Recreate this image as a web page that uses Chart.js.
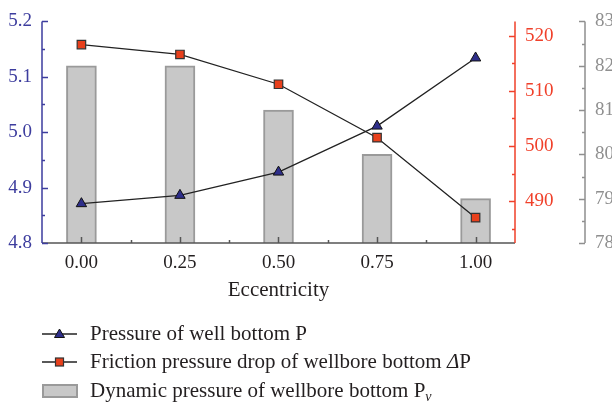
<!DOCTYPE html>
<html>
<head>
<meta charset="utf-8">
<script src="https://cdn.jsdelivr.net/npm/chart.js@4"></script>
<style>
  body { margin: 0; background: #fff; }
  #wrap { position: relative; width: 612px; height: 405px; overflow: hidden; }
  #chart { position: absolute; left: 0; top: 0; }
  .leg { position: absolute; left: 42px; font-family: "Liberation Serif", serif; font-size: 21px; color: #231f20; white-space: nowrap; }
  .leg svg { position: absolute; left: 0; top: 0; }
  .leg span { position: absolute; left: 48px; top: -13px; }
  sub { font-size: 14px; vertical-align: -4px; }
</style>
</head>
<body>
<div id="wrap">
  <canvas id="chart" width="640" height="405"></canvas>
  <div class="leg" style="top:334px">
    <svg width="40" height="14" style="top:-7px"><line x1="0" y1="7" x2="35" y2="7" stroke="#222" stroke-width="1.3"/><polygon points="17.5,2 22.5,10.5 12.5,10.5" fill="#2e2e8a" stroke="#111" stroke-width="1"/></svg>
    <span>Pressure of well bottom P</span>
  </div>
  <div class="leg" style="top:362px">
    <svg width="40" height="14" style="top:-7px"><line x1="0" y1="7" x2="35" y2="7" stroke="#222" stroke-width="1.3"/><rect x="13.5" y="3" width="8" height="8" fill="#e8401c" stroke="#333" stroke-width="1.2"/></svg>
    <span>Friction pressure drop of wellbore bottom <i>Δ</i>P</span>
  </div>
  <div class="leg" style="top:391px">
    <svg width="40" height="16" style="top:-7px"><rect x="1" y="1" width="34" height="12" fill="#c8c8c8" stroke="#9a9a9a" stroke-width="2"/></svg>
    <span>Dynamic pressure of wellbore bottom P<sub><i>v</i></sub></span>
  </div>
</div>
<script>
var eccentricity = [0, 0.25, 0.5, 0.75, 1.0];
var pressure = [4.871, 4.886, 4.928, 5.011, 5.134];
var friction = [518.4, 516.6, 511.2, 501.5, 487.0];
var dynamicP = [82.0, 82.0, 81.0, 80.0, 79.0];

var pTicks = [4.8, 4.9, 5.0, 5.1, 5.2];
var dpTicks = [490, 500, 510, 520];
var pvTicks = [78, 79, 80, 81, 82, 83];

var blue = '#3d3d9e';
var red = '#f0402a';
var gray = '#8f8f8f';
var dark = '#231f20';
var fontFam = '"Liberation Serif", serif';

function pts(ys) {
    return eccentricity.map(function(x, i) { return {x: x, y: ys[i]}; });
}

function minors(scale, ticks) {
    var step = ticks[1] - ticks[0];
    var out = [];
    for (var v = ticks[0] - step / 2; v <= scale.max + 1e-9; v += step) {
        if (v >= scale.min - 1e-9) out.push(v);
    }
    return out;
}

function drawY(ctx, scale, x, dir, color, ticks) {
    ctx.strokeStyle = color;
    ctx.beginPath();
    ctx.moveTo(x, scale.top);
    ctx.lineTo(x, scale.bottom);
    ticks.forEach(function(v) {
        var y = Math.round(scale.getPixelForValue(v)) + 0.5;
        ctx.moveTo(x, y); ctx.lineTo(x + dir * 6, y);
    });
    minors(scale, ticks).forEach(function(v) {
        var y = Math.round(scale.getPixelForValue(v)) + 0.5;
        ctx.moveTo(x, y); ctx.lineTo(x + dir * 3, y);
    });
    ctx.stroke();
}

var axesPlugin = {
    id: 'axes',
    afterDraw: function(chart) {
        var ctx = chart.ctx, a = chart.chartArea, s = chart.scales;
        ctx.save();
        ctx.lineWidth = 1.5;
        // x axis
        ctx.strokeStyle = '#555';
        ctx.beginPath();
        ctx.moveTo(a.left, a.bottom); ctx.lineTo(a.right, a.bottom);
        eccentricity.forEach(function(v, i) {
            var x = Math.round(s.x.getPixelForValue(v)) + 0.5;
            ctx.moveTo(x, a.bottom); ctx.lineTo(x, a.bottom - 6);
            if (i < eccentricity.length - 1) {
                var xm = Math.round(s.x.getPixelForValue((v + eccentricity[i + 1]) / 2)) + 0.5;
                ctx.moveTo(xm, a.bottom); ctx.lineTo(xm, a.bottom - 3);
            }
        });
        ctx.stroke();
        drawY(ctx, s.yP, a.left, 1, blue, pTicks);
        drawY(ctx, s.yDP, a.right, -1, red, dpTicks);
        drawY(ctx, s.yPv, s.yPv.left, -1, gray, pvTicks);
        ctx.restore();
    }
};

var chart = new Chart(document.getElementById('chart'), {
    type: 'bar',
    data: {
        datasets: [
            {
                type: 'line',
                label: 'Pressure of well bottom P',
                data: pts(pressure),
                yAxisID: 'yP',
                borderColor: '#222',
                borderWidth: 1.3,
                pointStyle: 'triangle',
                pointRadius: 6,
                pointBackgroundColor: '#2e2e8a',
                pointBorderColor: '#111',
                pointBorderWidth: 1,
                order: 0
            },
            {
                type: 'line',
                label: 'Friction pressure drop of wellbore bottom ΔP',
                data: pts(friction),
                yAxisID: 'yDP',
                borderColor: '#222',
                borderWidth: 1.3,
                pointStyle: 'rect',
                pointRadius: 6,
                pointBackgroundColor: '#e8401c',
                pointBorderColor: '#333',
                pointBorderWidth: 1.2,
                order: 0
            },
            {
                type: 'bar',
                label: 'Dynamic pressure of wellbore bottom Pv',
                data: pts(dynamicP),
                yAxisID: 'yPv',
                base: 78,
                barThickness: 30,
                backgroundColor: '#c8c8c8',
                borderColor: '#9a9a9a',
                borderWidth: 2,
                order: 1
            }
        ]
    },
    options: {
        responsive: false,
        animation: false,
        events: [],
        layout: { padding: { left: 0, right: 0, top: 17, bottom: 102 } },
        plugins: { legend: { display: false }, tooltip: { enabled: false } },
        scales: {
            x: {
                type: 'linear',
                position: 'bottom',
                offset: false,
                min: -0.1,
                max: 1.1,
                grid: { display: false, drawTicks: false, offset: false },
                border: { display: false },
                afterBuildTicks: function(sc) { sc.ticks = eccentricity.map(function(v) { return {value: v}; }); },
                afterFit: function(sc) { sc.height = 60; },
                ticks: {
                    padding: 9,
                    color: dark,
                    font: { family: fontFam, size: 19 },
                    callback: function(v) { return Number(v).toFixed(2); }
                },
                title: {
                    display: true,
                    text: 'Eccentricity',
                    color: dark,
                    padding: { top: 0, bottom: 0 },
                    font: { family: fontFam, size: 21 }
                }
            },
            yP: {
                type: 'linear',
                position: 'left',
                min: 4.8,
                max: 5.2,
                grid: { display: false, drawTicks: false },
                border: { display: false },
                afterBuildTicks: function(sc) { sc.ticks = pTicks.map(function(v) { return {value: v}; }); },
                afterFit: function(sc) { sc.width = 42; },
                ticks: {
                    padding: 10,
                    color: blue,
                    font: { family: fontFam, size: 19 },
                    callback: function(v) { return Number(v).toFixed(1); }
                }
            },
            yDP: {
                type: 'linear',
                position: 'right',
                weight: 0,
                min: 482.4,
                max: 522.6,
                grid: { display: false, drawTicks: false },
                border: { display: false },
                afterBuildTicks: function(sc) { sc.ticks = dpTicks.map(function(v) { return {value: v}; }); },
                afterFit: function(sc) { sc.width = 70; },
                ticks: {
                    padding: 10,
                    color: red,
                    font: { family: fontFam, size: 19 }
                }
            },
            yPv: {
                type: 'linear',
                position: 'right',
                weight: 1,
                min: 78,
                max: 83,
                grid: { display: false, drawTicks: false },
                border: { display: false },
                afterBuildTicks: function(sc) { sc.ticks = pvTicks.map(function(v) { return {value: v}; }); },
                afterFit: function(sc) { sc.width = 55; },
                ticks: {
                    padding: 10,
                    color: gray,
                    font: { family: fontFam, size: 19 }
                }
            }
        }
    },
    plugins: [axesPlugin]
});
</script>
</body>
</html>
